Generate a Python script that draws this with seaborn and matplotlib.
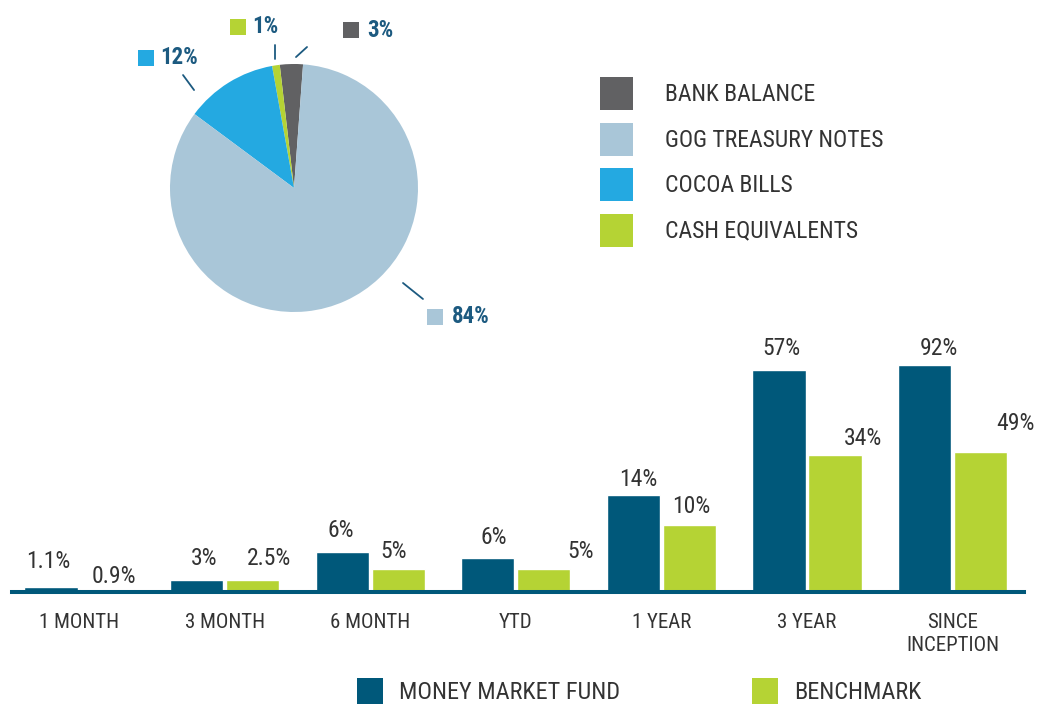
import numpy as np
import pandas as pd
import seaborn as sns
import matplotlib.pyplot as plt
from matplotlib import font_manager
from matplotlib.patches import Patch, Rectangle

# Portfolio mix (pie)
asset_names = ['BANK BALANCE', 'GOG TREASURY NOTES', 'COCOA BILLS', 'CASH EQUIVALENTS']
asset_shares = [3, 84, 12, 1]

# Returns (bars)
periods = ['1 MONTH', '3 MONTH', '6 MONTH', 'YTD', '1 YEAR', '3 YEAR', 'SINCE\nINCEPTION']
series_names = ['MONEY MARKET FUND', 'BENCHMARK']
fund_labels = ['1.1%', '3%', '6%', '6%', '14%', '57%', '92%']
bench_labels = ['0.9%', '2.5%', '5%', '5%', '10%', '34%', '49%']
# bar lengths as drawn in the source (they are not to scale with the printed figures)
fund_heights = [5, 12, 40, 34, 97, 222, 227]
bench_heights = [3, 12, 23, 23, 67, 137, 140]

# Colours
c_fund = '#00587a'
c_bench = '#b5d334'
asset_colors = ['#616163', '#a9c6d8', '#24a9e1', '#b5d334']
c_pielabel = '#1c5a80'
c_text = '#333333'

sns.set_style('white')
available = {f.name for f in font_manager.fontManager.ttflist}
font = 'DejaVu Sans'
for fam in ['Liberation Sans Narrow', 'Roboto Condensed', 'Open Sans Condensed', 'Lato']:
    if fam in available:
        font = fam
        break
plt.rcParams['font.family'] = [font, 'DejaVu Sans']

fig = plt.figure(figsize=(10.44, 7.07), dpi=100)

# ---- pie ----
ax_pie = fig.add_axes([46 / 1044, 1 - 374 / 707, 496 / 1044, 372 / 707])
# drawn counter-clockwise: bank, cash, cocoa, treasury
order = [0, 3, 2, 1]
ax_pie.pie([asset_shares[i] for i in order],
           colors=[asset_colors[i] for i in order],
           startangle=85.8, counterclock=True, radius=1,
           wedgeprops=dict(linewidth=0))
ax_pie.set_xlim(-2, 2)
ax_pie.set_ylim(-1.5, 1.5)
ax_pie.set_aspect('equal')
ax_pie.axis('off')

# leader line, marker box centre, text left edge (radius units)
pie_layout = {
    'BANK BALANCE': ((0.016, 1.056), (0.105, 1.137), (0.46, 1.274), 0.589),
    'GOG TREASURY NOTES': ((0.879, -0.766), (1.04, -0.895), (1.137, -1.04), 1.275),
    'COCOA BILLS': ((-0.806, 0.79), (-0.895, 0.911), (-1.194, 1.052), -1.08),
    'CASH EQUIVALENTS': ((-0.153, 1.04), (-0.153, 1.153), (-0.452, 1.302), -0.339),
}
sq = 0.129
for name, share, col in zip(asset_names, asset_shares, asset_colors):
    p0, p1, box, tx = pie_layout[name]
    ax_pie.plot([p0[0], p1[0]], [p0[1], p1[1]], color=c_pielabel, lw=1.3)
    ax_pie.add_patch(Rectangle((box[0] - sq / 2, box[1] - sq / 2), sq, sq,
                               color=col, lw=0))
    ax_pie.text(tx, box[1], f'{share}%', color=c_pielabel, fontsize=16.5,
                fontweight='bold', ha='left', va='center')

pie_handles = [Patch(color=c, lw=0) for c in asset_colors]
fig.legend(pie_handles, asset_names, loc='upper left',
           bbox_to_anchor=(600 / 1044, 1 - 77 / 707), frameon=False,
           fontsize=17, handlelength=1.4, handleheight=1.774,
           handletextpad=1.36, labelspacing=0.53, borderpad=0,
           borderaxespad=0, labelcolor=c_text)

# ---- bars ----
df = pd.DataFrame({
    'period': periods * 2,
    'series': [series_names[0]] * len(periods) + [series_names[1]] * len(periods),
    'height': fund_heights + bench_heights,
})

ax = fig.add_axes([12 / 1044, 1 - 592 / 707, 1012 / 1044, 252 / 707])
sns.barplot(data=df, x='period', y='height', hue='series',
            palette=[c_fund, c_bench], saturation=1, width=0.77, gap=0.05,
            legend=False, ax=ax, zorder=1)
ax.set_xlim(-0.46, 6.49)
ax.set_ylim(0, 252)
ax.set_xlabel('')
ax.set_ylabel('')
ax.set_yticks([])
for s in ['left', 'top', 'right']:
    ax.spines[s].set_visible(False)
ax.spines['bottom'].set_color(c_fund)
ax.spines['bottom'].set_linewidth(2.9)
ax.spines['bottom'].set_zorder(3)
ax.set_xticks(range(len(periods)))
ax.set_xticklabels(periods, fontsize=15, color=c_text, linespacing=1.3)
ax.set_xticks(np.arange(0.5, len(periods) - 1), minor=True)
ax.tick_params(axis='x', which='major', length=0, pad=15)
ax.tick_params(axis='x', which='minor', length=16, width=2.2,
               color=c_fund, direction='out')

# label offsets: (dx px, gap px between bar top and label baseline)
fund_offsets = [(-3, 19), (8, 15), (-1, 15), (6, 14), (5, 9), (2, 15), (14, 10)]
bench_offsets = [(7, 6), (16, 15), (-5, 11), (37, 11), (2, 12), (28, 10), (35, 22)]
for cont, labels, offs in zip(ax.containers, [fund_labels, bench_labels],
                              [fund_offsets, bench_offsets]):
    for bar, lab, (dx, dy) in zip(cont, labels, offs):
        ax.annotate(lab, (bar.get_x() + bar.get_width() / 2, bar.get_height()),
                    xytext=(dx * 0.72, dy * 0.72), textcoords='offset points',
                    ha='center', va='baseline', fontsize=17, color=c_text,
                    annotation_clip=False)

fig.legend([Patch(color=c_fund, lw=0)], [series_names[0]], loc='center left',
           bbox_to_anchor=(357 / 1044, 1 - 691 / 707), frameon=False,
           fontsize=17.5, handlelength=1.07, handleheight=1.27,
           handletextpad=0.66, borderpad=0, borderaxespad=0, labelcolor=c_text)
fig.legend([Patch(color=c_bench, lw=0)], [series_names[1]], loc='center left',
           bbox_to_anchor=(752 / 1044, 1 - 691 / 707), frameon=False,
           fontsize=17.5, handlelength=1.07, handleheight=1.27,
           handletextpad=0.66, borderpad=0, borderaxespad=0, labelcolor=c_text)

plt.savefig('out.png', dpi=100)
